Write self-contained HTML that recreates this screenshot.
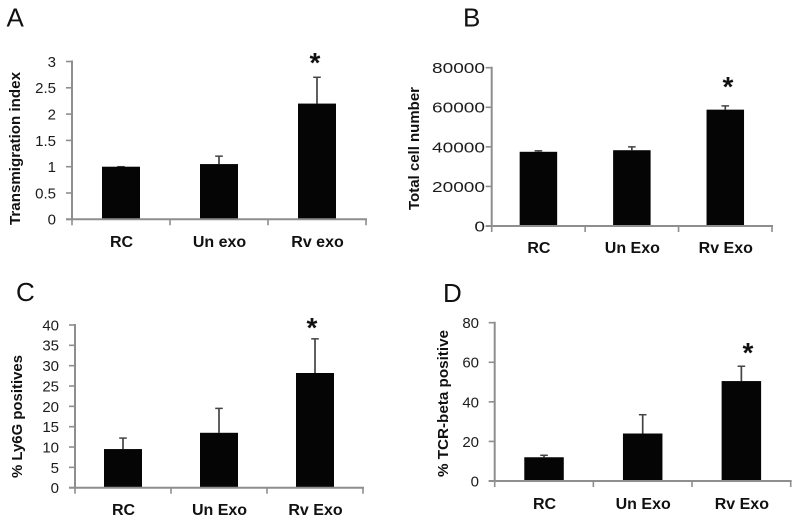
<!DOCTYPE html>
<html lang="en">
<head>
<meta charset="utf-8">
<title>Four panel bar charts</title>
<style>
html,body{margin:0;padding:0;background:#fff;}
#figure{display:block;width:800px;height:522px;background:#fff;font-family:"Liberation Sans",Arial,sans-serif;}
.tick-text{font-size:15px;fill:#1c1c1c;text-anchor:end;}
.cat-text{font-size:16px;font-weight:bold;fill:#111;text-anchor:middle;}
.title-text{font-size:14.5px;font-weight:bold;fill:#111;text-anchor:middle;}
.letter-text{font-size:26px;fill:#111;}
.star-text{font-size:28px;font-weight:bold;fill:#111;text-anchor:middle;}
</style>
</head>
<body>
<svg id="figure" width="800" height="522" viewBox="0 0 800 522" xmlns="http://www.w3.org/2000/svg"></svg>
<script>
// Panel A data
const categoriesA = ['RC', 'Un exo', 'Rv exo'];
const valuesA = [1, 1.05, 2.2];
const errorTopsA = [1, 1.2, 2.7];
const tickLabelsA = ['0', '0.5', '1', '1.5', '2', '2.5', '3'];
// Panel B data
const categoriesB = ['RC', 'Un Exo', 'Rv Exo'];
const valuesB = [37500, 38300, 58800];
const errorTopsB = [38000, 40000, 60700];
const tickLabelsB = ['0', '20000', '40000', '60000', '80000'];
// Panel C data
const categoriesC = ['RC', 'Un Exo', 'Rv Exo'];
const valuesC = [9.5, 13.5, 28.2];
const errorTopsC = [12.2, 19.5, 36.6];
const tickLabelsC = ['0', '5', '10', '15', '20', '25', '30', '35', '40'];
// Panel D data
const categoriesD = ['RC', 'Un Exo', 'Rv Exo'];
const valuesD = [12, 24, 50.5];
const errorTopsD = [13, 33.5, 58];
const tickLabelsD = ['0', '20', '40', '60', '80'];

const NS = 'http://www.w3.org/2000/svg';
const root = document.getElementById('figure');

function make(parent, tag, attrs, text) {
  const el = document.createElementNS(NS, tag);
  for (const k in attrs) el.setAttribute(k, attrs[k]);
  if (text !== undefined) el.textContent = text;
  parent.appendChild(el);
  return el;
}

function drawPanel(p) {
  const group = make(root, 'g', {});
  
  

  const maxTick = Number(p.ticks[p.ticks.length - 1]);
  const yScale = function (v) { return p.y0 - (v / maxTick) * (p.y0 - p.yTop); };
  const band = (p.xRight - p.x0) / p.cats.length;
  const xCenter = function (i) { return p.x0 + band * (i + 0.5); };

  const letter = make(group, 'text', { x: p.letterX, y: p.letterY, 'class': 'letter-text' }, p.id);
  
  

  const title = make(group, 'text', {
    transform: 'translate(' + p.titleX + ' ' + p.titleY + ') rotate(-90)',
    'class': 'title-text',
    textLength: p.titleLen,
    lengthAdjust: 'spacingAndGlyphs'
  }, p.title);
  
  

  p.values.forEach(function (v, i) {
    const cx = xCenter(i);
    const top = yScale(v);
    const errY = yScale(p.errors[i]);

    const stem = make(group, 'line', { x1: cx, x2: cx, y1: top, y2: errY, stroke: '#444', 'stroke-width': 1.7 });
    
    

    const cap = make(group, 'line', { x1: cx - 3.8, x2: cx + 3.8, y1: errY, y2: errY, stroke: '#444', 'stroke-width': 1.5 });
    
    

    const bar = make(group, 'rect', { x: cx - p.barW / 2, y: top, width: p.barW, height: p.y0 - top, fill: '#050505' });
    
    

    const cat = make(group, 'text', { x: cx + 0.5, y: p.catY, 'class': 'cat-text' }, p.cats[i]);
    
    
  });

  const yAxis = make(group, 'line', { x1: p.x0, x2: p.x0, y1: p.yTop - 1, y2: p.y0 + 1, stroke: '#8e8e8e', 'stroke-width': 2 });
  
  

  const xAxis = make(group, 'line', { x1: p.x0 - 6, x2: p.xRight + 1, y1: p.y0, y2: p.y0, stroke: '#8e8e8e', 'stroke-width': 2 });
  
  

  p.ticks.forEach(function (t) {
    const y = yScale(Number(t));
    const tick = make(group, 'line', { x1: p.x0 - 6, x2: p.x0, y1: y, y2: y, stroke: '#8e8e8e', 'stroke-width': 1.6 });
    
    

    const label = make(group, 'text', { x: p.labelX, y: y + 5.4, 'class': 'tick-text' }, t);
    if (p.digitW) {
      label.setAttribute('textLength', t.length * p.digitW);
      label.setAttribute('lengthAdjust', 'spacingAndGlyphs');
    }
    
    
  });

  for (let i = 0; i <= p.cats.length; i++) {
    const x = p.x0 + band * i;
    const xTick = make(group, 'line', { x1: x, x2: x, y1: p.y0, y2: p.y0 + 6, stroke: '#8e8e8e', 'stroke-width': 1.6 });
    
    
  }

  const star = make(group, 'text', { x: p.starX, y: p.starY, 'class': 'star-text' }, '*');
  
  
}

drawPanel({
  id: 'A', cats: categoriesA, values: valuesA, errors: errorTopsA, ticks: tickLabelsA,
  title: 'Transmigration index',
  x0: 72, xRight: 366, y0: 219.3, yTop: 61.5, barW: 38, catY: 247, labelX: 56, digitW: 0,
  letterX: 6.5, letterY: 26.7, titleX: 20, titleY: 148.5, titleLen: 153, starX: 315, starY: 72
});
drawPanel({
  id: 'B', cats: categoriesB, values: valuesB, errors: errorTopsB, ticks: tickLabelsB,
  title: 'Total cell number',
  x0: 491.7, xRight: 772, y0: 226, yTop: 67.7, barW: 37.5, catY: 253, labelX: 485, digitW: 10.6,
  letterX: 463, letterY: 26.7, titleX: 419, titleY: 148.5, titleLen: 123, starX: 728, starY: 96
});
drawPanel({
  id: 'C', cats: categoriesC, values: valuesC, errors: errorTopsC, ticks: tickLabelsC,
  title: '% Ly6G positives',
  x0: 75, xRight: 363, y0: 487.7, yTop: 325, barW: 38, catY: 515, labelX: 59, digitW: 0,
  letterX: 16, letterY: 301, titleX: 22, titleY: 416.5, titleLen: 123, starX: 312, starY: 337
});
drawPanel({
  id: 'D', cats: categoriesD, values: valuesD, errors: errorTopsD, ticks: tickLabelsD,
  title: '% TCR-beta positive',
  x0: 494.7, xRight: 790.7, y0: 481, yTop: 322.7, barW: 39.5, catY: 509, labelX: 479, digitW: 0,
  letterX: 443, letterY: 302, titleX: 448, titleY: 403.5, titleLen: 147, starX: 748, starY: 362
});
</script>
</body>
</html>
